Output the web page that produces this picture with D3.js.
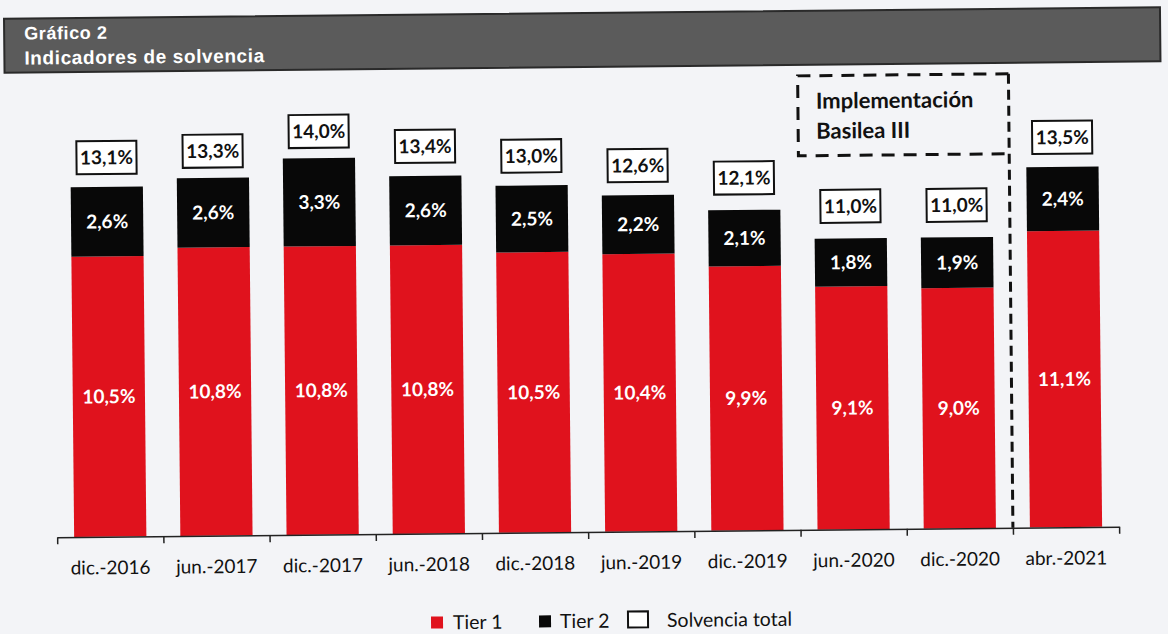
<!DOCTYPE html>
<html>
<head>
<meta charset="utf-8">
<script src="https://cdn.jsdelivr.net/npm/d3@7"></script>
<style>
  body { margin: 0; background: #f3f4f7; }
  svg { display: block; }
</style>
</head>
<body>
<svg id="chart"></svg>
<script>
const periods = ["dic.-2016", "jun.-2017", "dic.-2017", "jun.-2018", "dic.-2018", "jun.-2019", "dic.-2019", "jun.-2020", "dic.-2020", "abr.-2021"];
const tier1 = [10.5, 10.8, 10.8, 10.8, 10.5, 10.4, 9.9, 9.1, 9.0, 11.1];
const tier2 = [2.6, 2.6, 3.3, 2.6, 2.5, 2.2, 2.1, 1.8, 1.9, 2.4];
const solvencia = [13.1, 13.3, 14.0, 13.4, 13.0, 12.6, 12.1, 11.0, 11.0, 13.5];
const legendNames = ["Tier 1", "Tier 2", "Solvencia total"];

const w = 1168;
const h = 634;
const baseY = 532;
const red = "#e0121d";
const font = "Lato, 'Open Sans', sans-serif";

const fmt = v => d3.format(".1f")(v).replace(".", ",") + "%";

const svg = d3.select("#chart")
  .attr("width", w)
  .attr("height", h);

// the scanned page is slightly tilted
const g = svg.append("g")
  .attr("transform", "rotate(-0.57," + (w / 2) + "," + (h / 2) + ")");

// title bar
g.append("rect")
  .attr("x", 7).attr("y", 13)
  .attr("width", 1156).attr("height", 54)
  .attr("fill", "#5b5b5b")
  .attr("stroke", "#2a2a2a")
  .attr("stroke-width", 2);

g.append("text")
  .attr("x", 27).attr("y", 34)
  .attr("fill", "white")
  .attr("font-family", "'Liberation Sans', Arial, sans-serif")
  .attr("font-weight", "bold")
  .attr("font-size", 18)
  .attr("letter-spacing", 0.6)
  .text("Gráfico 2");

g.append("text")
  .attr("x", 27).attr("y", 59)
  .attr("fill", "white")
  .attr("font-family", "'Liberation Sans', Arial, sans-serif")
  .attr("font-weight", "bold")
  .attr("font-size", 19)
  .attr("letter-spacing", 0.6)
  .text("Indicadores de solvencia");

const xScale = d3.scaleBand()
  .domain(periods)
  .range([55, 1117])
  .paddingInner(0.32)
  .paddingOuter(0.16);

const yScale = d3.scaleLinear()
  .domain([0, 15])
  .range([baseY, baseY - 15 * 26.7]);

const rows = periods.map((p, i) => ({ p: p, t1: tier1[i], t2: tier2[i], tot: solvencia[i] }));

// tier 1 bars
g.selectAll(".t1")
  .data(rows)
  .join("rect")
  .attr("class", "t1")
  .attr("x", d => xScale(d.p))
  .attr("width", xScale.bandwidth())
  .attr("y", d => yScale(d.t1))
  .attr("height", d => yScale(0) - yScale(d.t1))
  .attr("fill", red);

// tier 2 bars
g.selectAll(".t2")
  .data(rows)
  .join("rect")
  .attr("class", "t2")
  .attr("x", d => xScale(d.p))
  .attr("width", xScale.bandwidth())
  .attr("y", d => yScale(d.t1 + d.t2))
  .attr("height", d => yScale(d.t1) - yScale(d.t1 + d.t2))
  .attr("fill", "#080808");

g.selectAll(".l1")
  .data(rows)
  .join("text")
  .attr("class", "l1")
  .attr("x", d => xScale(d.p) + xScale.bandwidth() / 2)
  .attr("y", d => yScale(d.t1 / 2))
  .attr("dy", "0.35em")
  .attr("text-anchor", "middle")
  .attr("fill", "white")
  .attr("font-family", font)
  .attr("font-weight", "bold")
  .attr("font-size", 19)
  .text(d => fmt(d.t1));

g.selectAll(".l2")
  .data(rows)
  .join("text")
  .attr("class", "l2")
  .attr("x", d => xScale(d.p) + xScale.bandwidth() / 2)
  .attr("y", d => yScale(d.t1 + d.t2 / 2))
  .attr("dy", "0.35em")
  .attr("text-anchor", "middle")
  .attr("fill", "white")
  .attr("font-family", font)
  .attr("font-weight", "bold")
  .attr("font-size", 19)
  .text(d => fmt(d.t2));

// total solvency boxes
const tot = g.selectAll(".tot")
  .data(rows)
  .join("g")
  .attr("class", "tot")
  .attr("transform", d => "translate(" + (xScale(d.p) + xScale.bandwidth() / 2) + "," + (yScale(d.tot) - 30) + ")");

tot.append("rect")
  .attr("x", -30).attr("y", -16)
  .attr("width", 60).attr("height", 33)
  .attr("fill", "white")
  .attr("stroke", "#111")
  .attr("stroke-width", 2);

tot.append("text")
  .attr("text-anchor", "middle")
  .attr("dy", "0.38em")
  .attr("font-family", font)
  .attr("font-weight", "bold")
  .attr("font-size", 19)
  .attr("fill", "#111")
  .text(d => fmt(d.tot));

// axis: labels centred on bands, ticks on band edges
const xAxis = d3.axisBottom(xScale).tickSize(0).tickPadding(24);
g.append("g")
  .attr("transform", "translate(0," + baseY + ")")
  .call(xAxis)
  .call(a => a.select(".domain").remove())
  .selectAll("text")
  .attr("font-family", font)
  .attr("font-size", 19)
  .attr("fill", "#111");

const edgeScale = d3.scaleLinear().domain([0, periods.length]).range([55, 1117]);
g.append("g")
  .attr("transform", "translate(0," + baseY + ")")
  .call(d3.axisBottom(edgeScale).tickValues(d3.range(periods.length + 1)).tickFormat("").tickSize(7).tickSizeOuter(0))
  .call(a => a.select(".domain").attr("stroke", "#222").attr("stroke-width", 1.5))
  .call(a => a.selectAll(".tick line").attr("stroke", "#222").attr("stroke-width", 1.5));

// Basilea III marker
const sepX = edgeScale(9);
g.append("line")
  .attr("x1", sepX).attr("x2", sepX)
  .attr("y1", 78).attr("y2", baseY)
  .attr("stroke", "#111")
  .attr("stroke-width", 3)
  .attr("stroke-dasharray", "10,6");

g.append("path")
  .attr("d", "M" + sepX + ",78 H800 V158 H" + sepX)
  .attr("fill", "none")
  .attr("stroke", "#111")
  .attr("stroke-width", 3)
  .attr("stroke-dasharray", "13,9");

g.append("text")
  .attr("x", 818).attr("y", 111)
  .attr("font-family", font)
  .attr("font-weight", "bold")
  .attr("font-size", 22)
  .attr("fill", "#111")
  .text("Implementación");

g.append("text")
  .attr("x", 818).attr("y", 141)
  .attr("font-family", font)
  .attr("font-weight", "bold")
  .attr("font-size", 22)
  .attr("fill", "#111")
  .text("Basilea III");

// legend
const legend = g.append("g").attr("transform", "translate(0,618)");
const legendX = [428, 536, 625];
const legendTextX = [450, 557, 664];

legend.selectAll("rect")
  .data(legendNames)
  .join("rect")
  .attr("x", (d, i) => legendX[i])
  .attr("y", (d, i) => i < 2 ? -3 : -6)
  .attr("width", (d, i) => i < 2 ? 12 : 20)
  .attr("height", (d, i) => i < 2 ? 12 : 16)
  .attr("fill", (d, i) => i === 0 ? red : i === 1 ? "#080808" : "white")
  .attr("stroke", (d, i) => i === 2 ? "#111" : "none")
  .attr("stroke-width", 2);

legend.selectAll("text")
  .data(legendNames)
  .join("text")
  .attr("x", (d, i) => legendTextX[i])
  .attr("y", 3)
  .attr("dy", "0.35em")
  .attr("font-family", font)
  .attr("font-size", 19.5)
  .attr("fill", "#111")
  .text(d => d);
</script>
</body>
</html>
